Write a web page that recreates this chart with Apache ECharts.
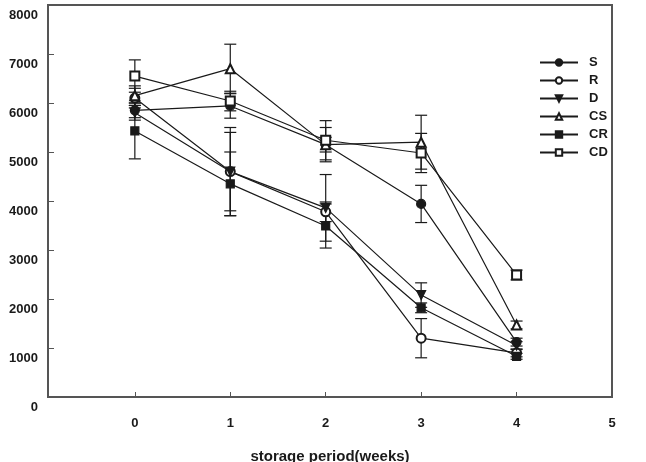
<!DOCTYPE html>
<html>
<head>
<meta charset="utf-8">
<script src="https://cdn.jsdelivr.net/npm/echarts@6/dist/echarts.min.js"></script>
<style>
  html, body { margin: 0; padding: 0; background: #fff; }
  #chart { width: 646px; height: 462px; }
</style>
</head>
<body>
<div id="chart"></div>
<script>
// weeks of storage
const weeks = [0, 1, 2, 3, 4];
const xTicks = [0, 1, 2, 3, 4, 5];

// mean values per treatment
const S  = [5850, 5940, 5150, 3940, 1120];
const R  = [6100, 4600, 3780, 1200, 900];
const D  = [5800, 4600, 3860, 2080, 1050];
const CS = [6150, 6700, 5150, 5200, 1470];
const CR = [5430, 4350, 3490, 1820, 830];
const CD = [6550, 6040, 5240, 4980, 2490];

// error bar half-widths
const S_err  = [150, 250, 150, 380, 80];
const R_err  = [200, 800, 200, 400, 80];
const D_err  = [150, 900, 680, 250, 80];
const CS_err = [200, 500, 350, 550, 80];
const CR_err = [570, 650, 450, 100, 60];
const CD_err = [330, 200, 400, 400, 100];

const INK = '#1a1a1a';
const FRAME = '#555';
const FONT = 'Liberation Sans, Arial, sans-serif';

// name, values, errors, symbol, rotate
const SETS = [
  ['S',  S,  S_err,  'circle',        0],
  ['R',  R,  R_err,  'emptyCircle',   0],
  ['D',  D,  D_err,  'triangle',      180],
  ['CS', CS, CS_err, 'emptyTriangle', 0],
  ['CR', CR, CR_err, 'rect',          0],
  ['CD', CD, CD_err, 'emptyRect',     0],
];

function errBar(params, api) {
  const x = api.value(0);
  const lo = api.coord([x, api.value(1)]);
  const hi = api.coord([x, api.value(2)]);
  const w = 6;
  const style = { stroke: INK, lineWidth: 1.2 };
  return {
    type: 'group',
    children: [
      { type: 'line', shape: { x1: lo[0], y1: lo[1], x2: hi[0], y2: hi[1] }, style },
      { type: 'line', shape: { x1: lo[0] - w, y1: lo[1], x2: lo[0] + w, y2: lo[1] }, style },
      { type: 'line', shape: { x1: hi[0] - w, y1: hi[1], x2: hi[0] + w, y2: hi[1] }, style },
    ],
  };
}

const series = [];
SETS.forEach(([name, vals, errs]) => {
  series.push({
    name: name + '_err',
    type: 'custom',
    renderItem: errBar,
    silent: true,
    z: 2,
    data: weeks.map((w, i) => [w, vals[i] - errs[i], vals[i] + errs[i]]),
  });
});
SETS.forEach(([name, vals, errs, symbol, rot]) => {
  series.push({
    name,
    type: 'line',
    symbol,
    symbolRotate: rot,
    symbolSize: symbol.indexOf('rect') >= 0 ? 8 : 9,
    showSymbol: true,
    z: 5,
    lineStyle: { color: INK, width: 1.2 },
    itemStyle: { color: INK, borderColor: INK, borderWidth: 1.2 },
    data: weeks.map((w, i) => [w, vals[i]]),
  });
});

const chart = echarts.init(document.getElementById('chart'));
chart.setOption({
  animation: false,
  backgroundColor: '#fff',
  textStyle: { fontFamily: FONT },
  grid: {
    left: 48, right: 34, top: 5, bottom: 65,
    outerBoundsMode: 'none', containLabel: false,
    show: true, borderColor: FRAME, borderWidth: 2, backgroundColor: 'transparent',
  },
  legend: {
    orient: 'vertical',
    left: 534, top: 51,
    itemWidth: 38, itemHeight: 8, itemGap: 5,
    data: SETS.map(s => s[0]),
    textStyle: { color: INK, fontSize: 13, fontWeight: 'bold', fontFamily: FONT, padding: [0, 0, 0, 6] },
  },
  xAxis: {
    type: 'value',
    min: -0.91, max: 5,
    name: 'storage period(weeks)',
    nameLocation: 'middle',
    nameGap: 52,
    nameTextStyle: { color: INK, fontSize: 15, fontWeight: 'bold', fontFamily: FONT },
    axisLine: { onZero: false, lineStyle: { color: FRAME, width: 2 } },
    axisTick: { inside: true, length: 5, customValues: xTicks, lineStyle: { color: FRAME } },
    axisLabel: { customValues: xTicks, margin: 20, color: INK, fontSize: 13, fontWeight: 'bold' },
    splitLine: { show: false },
  },
  yAxis: {
    type: 'value',
    min: 0, max: 8000, interval: 1000,
    axisLine: { show: true, onZero: false, lineStyle: { color: FRAME, width: 2 } },
    axisTick: { show: true, inside: true, length: 6, lineStyle: { color: FRAME } },
    axisLabel: {
      margin: 10, color: INK, fontSize: 13, fontWeight: 'bold',
      verticalAlign: 'top', padding: [4, 0, 0, 0],
      formatter: v => String(v),
    },
    splitLine: { show: false },
  },
  series,
});
</script>
</body>
</html>
